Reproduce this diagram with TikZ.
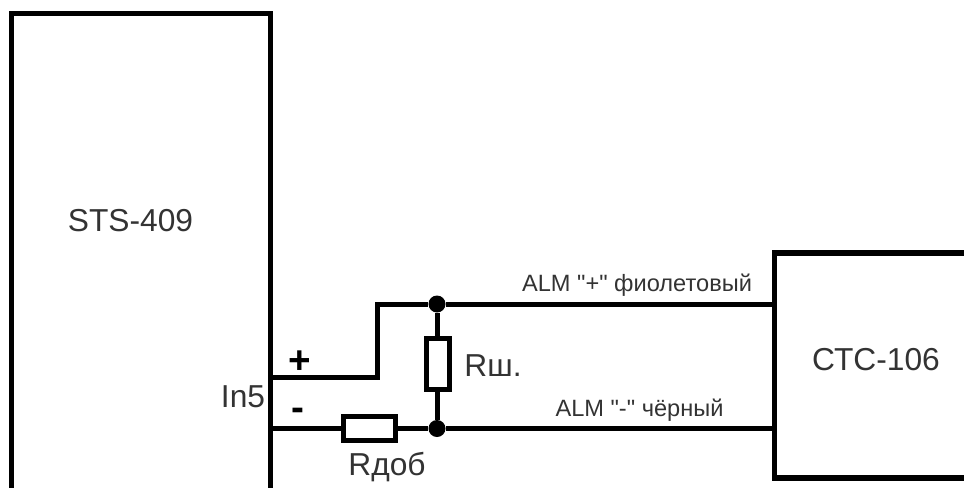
\documentclass[tikz,border=0pt]{standalone}
\usepackage{fontspec}
\newfontfamily\plainsans{Liberation Sans}
\tikzset{
 blockbox/.style={line width=4pt,draw=black,fill=none,line join=miter},
 wire/.style={line width=3.75pt,draw=black,line join=miter},
 res/.style={line width=3.75pt,draw=black,fill=white,inner sep=0pt,minimum width=#1},
 dotn/.style={circle,fill=black,inner sep=0pt,minimum size=17pt*0.75},
 lab/.style={inner sep=0pt,text=black!80,font=\plainsans\fontsize{23.8pt}{26pt}\selectfont},
 small/.style={inner sep=0pt,text=black!80,font=\plainsans\fontsize{17.7pt}{20pt}\selectfont}
}
\begin{document}
\begin{tikzpicture}[x=0.75pt,y=-0.75pt]
\useasboundingbox (0,0) rectangle (964,487);
\clip (0,0) rectangle (964,487);
\draw[blockbox] (11.7,500) -- (11.7,13.7) -- (270.5,13.7) -- (270.5,500);
\draw[blockbox] (970,253) -- (774.5,253) -- (774.5,478) -- (970,478);
\coordinate (ap) at (270.5,377);
\coordinate (am) at (270.5,428.5);
\coordinate (bp) at (774.5,304);
\coordinate (bm) at (774.5,428.5);
\coordinate (k1) at (377,377);
\coordinate (k2) at (377,304);
\node[dotn] (t) at (437,304) {};
\node[dotn] (b) at (437,428.5) {};
\draw[wire] (ap) -- (k1) -- (k2) -- (t) -- (bp);
\draw[wire] (am) -- (b) -- (bm);
\draw[wire] (t) -- (b);
\node[res=52pt*0.75,minimum height=24pt*0.75] (rd) at (369,428.5) {};
\node[res=23pt*0.75,minimum height=51pt*0.75] (rs) at (438,364) {};
\node[lab] at (130.5,221) {STS-409};
\node[lab] at (876,360) {СТС-106};
\node[lab] at (243,397) {In5};
\node[lab] at (493,366) {Rш.};
\node[lab] at (387,467) {Rдоб};
\node[font=\plainsans\bfseries\fontsize{29pt}{31pt}\selectfont,inner sep=0pt] at (300,362) {+};
\node[font=\plainsans\bfseries\fontsize{29pt}{31pt}\selectfont,inner sep=0pt] at (298,414) {-};
\node[small] at (637,285) {ALM "+" фиолетовый};
\node[small] at (639.5,410) {ALM "-" чёрный};
\end{tikzpicture}
\end{document}
